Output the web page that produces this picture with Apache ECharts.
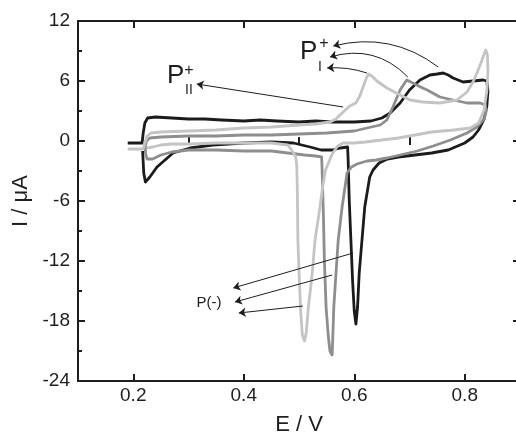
<!DOCTYPE html>
<html>
<head>
<meta charset="utf-8">
<script src="https://cdn.jsdelivr.net/npm/echarts@6/dist/echarts.min.js"></script>
<style>
  html, body { margin: 0; padding: 0; background: #ffffff; }
  #chart { width: 516px; height: 437px; }
</style>
</head>
<body>
<div id="chart"></div>
<script>
// Tick positions
const eMajorTicks = [0.2, 0.4, 0.6, 0.8];
const eMinorTicks = [0.3, 0.5, 0.7];

// Cyclic voltammograms: [E / V, I / uA], in scan order
const scanBlack = [
  [0.190,-0.2],[0.216,-0.2],[0.218,0.8],[0.221,1.8],[0.226,2.3],[0.24,2.4],[0.27,2.3],[0.30,2.2],
  [0.33,2.2],[0.36,2.1],[0.40,2.0],[0.43,2.1],[0.46,2.0],[0.50,1.9],[0.53,2.0],[0.56,1.9],[0.60,1.9],
  [0.63,2.0],[0.65,2.3],[0.665,2.8],[0.683,3.8],[0.70,5.1],[0.719,6.1],[0.737,6.6],[0.750,6.7],
  [0.761,6.8],[0.770,6.6],[0.779,6.3],[0.797,5.9],[0.815,6.0],[0.833,6.1],[0.840,6.0],[0.842,5.0],
  [0.840,3.5],[0.835,2.2],[0.825,1.1],[0.815,0.4],[0.800,-0.2],[0.770,-0.9],[0.740,-1.2],[0.710,-1.4],
  [0.680,-1.6],[0.660,-1.8],[0.645,-2.2],[0.634,-2.9],[0.628,-3.6],[0.619,-6.6],[0.614,-9.9],
  [0.609,-13.2],[0.606,-16.6],[0.603,-18.3],[0.600,-17.0],[0.597,-14.0],[0.594,-10.0],[0.591,-6.0],
  [0.589,-2.0],[0.588,-0.6],[0.575,-0.7],[0.560,-0.9],[0.540,-0.9],[0.520,-0.6],[0.490,-0.2],
  [0.450,-0.1],[0.400,-0.2],[0.344,-0.4],[0.303,-0.7],[0.272,-1.2],[0.243,-2.6],[0.230,-3.6],
  [0.222,-4.1],[0.219,-3.2],[0.217,-1.0]
];

const scanGrey = [
  [0.222,-0.5],[0.224,0.0],[0.230,0.3],[0.25,0.4],[0.30,0.5],[0.35,0.5],[0.40,0.6],[0.45,0.6],
  [0.50,0.7],[0.55,0.8],[0.60,1.0],[0.623,1.3],[0.647,1.6],[0.659,2.1],[0.670,3.4],[0.683,5.1],
  [0.695,6.1],[0.706,5.8],[0.720,5.4],[0.732,5.1],[0.755,4.4],[0.779,4.1],[0.804,3.8],[0.828,3.8],
  [0.837,3.6],[0.839,3.0],[0.835,2.2],[0.822,1.4],[0.804,0.8],[0.774,0.1],[0.743,-0.5],[0.714,-1.0],
  [0.683,-1.4],[0.659,-1.7],[0.640,-1.9],[0.623,-2.0],[0.605,-2.3],[0.595,-2.6],[0.587,-3.2],
  [0.578,-6.6],[0.571,-9.9],[0.567,-13.2],[0.563,-16.6],[0.561,-19.9],[0.560,-21.4],[0.556,-21.0],
  [0.553,-19.5],[0.549,-16.6],[0.546,-12.0],[0.544,-7.0],[0.542,-3.2],[0.541,-1.6],[0.530,-1.5],
  [0.510,-1.4],[0.480,-1.2],[0.450,-1.0],[0.400,-1.0],[0.350,-0.9],[0.300,-0.9],[0.270,-1.1],
  [0.250,-1.4],[0.235,-1.8],[0.225,-1.8],[0.222,-1.2],[0.222,-0.5]
];

const scanLight = [
  [0.190,-0.8],[0.218,-0.8],[0.221,-0.2],[0.225,0.5],[0.232,0.8],[0.25,0.9],[0.30,1.0],[0.35,1.1],
  [0.40,1.3],[0.45,1.4],[0.50,1.6],[0.53,1.7],[0.556,1.9],[0.567,2.2],[0.574,2.6],[0.580,2.9],
  [0.592,3.5],[0.603,3.8],[0.610,4.5],[0.616,5.4],[0.622,6.3],[0.626,6.7],[0.634,6.4],[0.641,6.0],
  [0.659,5.3],[0.683,4.6],[0.701,4.1],[0.724,3.9],[0.755,3.8],[0.786,4.1],[0.804,4.9],[0.815,5.9],
  [0.822,6.8],[0.830,7.9],[0.835,8.7],[0.838,9.1],[0.841,8.6],[0.842,7.0],[0.840,5.0],[0.835,3.1],
  [0.825,1.8],[0.810,1.3],[0.780,1.1],[0.740,0.9],[0.700,0.5],[0.680,0.3],[0.650,0.1],[0.620,-0.1],
  [0.600,-0.2],[0.580,-0.2],[0.570,-0.5],[0.560,-1.3],[0.548,-2.9],[0.543,-4.5],[0.538,-6.6],
  [0.529,-9.9],[0.524,-13.2],[0.517,-16.6],[0.513,-19.2],[0.510,-20.0],[0.506,-19.4],[0.503,-17.0],
  [0.500,-13.0],[0.498,-9.9],[0.497,-5.0],[0.496,-2.5],[0.494,-1.6],[0.489,-1.1],[0.480,-0.4],
  [0.450,-0.2],[0.400,-0.2],[0.350,-0.2],[0.300,-0.3],[0.270,-0.3],[0.250,-0.4],[0.235,-0.6],
  [0.225,-0.7]
];

// Annotation arrows: [arrow tip, tail on the curve, curveness]
const arrowsPI = [
  [[0.562, 9.5], [0.752, 7.4], 0.24],
  [[0.556, 8.4], [0.697, 6.4], 0.30],
  [[0.551, 7.3], [0.623, 6.8], 0.10]
];
const arrowsPII = [
  [[0.315, 5.7], [0.580, 3.4], 0]
];
const arrowsPminus = [
  [[0.381, -14.7], [0.598, -11.2], 0],
  [[0.384, -16.1], [0.560, -13.4], 0],
  [[0.391, -17.2], [0.507, -16.5], 0]
];

const FONT = "'Liberation Sans', Arial, Helvetica, sans-serif";
const INK = '#1e1e1e';

const chart = echarts.init(document.getElementById('chart'), null, { renderer: 'canvas' });

const arrowLines = arrowsPI.concat(arrowsPII, arrowsPminus).map(function (a) {
  return { coords: [a[0], a[1]], lineStyle: { curveness: a[2] } };
});

function axisBase(extra) {
  return Object.assign({
    type: 'value',
    axisLine: { show: true, onZero: false, lineStyle: { color: INK, width: 2 } },
    splitLine: { show: false },
    axisLabel: { show: false },
    axisTick: { show: false }
  }, extra);
}

const xCommon = { min: 0.1, max: 0.9 };
const yCommon = { min: -24, max: 12, interval: 6 };

const option = {
  backgroundColor: '#ffffff',
  animation: false,
  grid: { left: 78, top: 21, width: 442, height: 360, containLabel: false, outerBoundsMode: 'none' },
  xAxis: [
    axisBase(Object.assign({}, xCommon, {
      position: 'bottom',
      name: 'E / V',
      nameLocation: 'middle',
      nameGap: 33,
      nameTextStyle: { fontFamily: FONT, fontSize: 22, color: INK },
      axisTick: { show: true, inside: true, length: 7, customValues: eMajorTicks,
                  lineStyle: { color: INK, width: 2 } },
      axisLabel: { show: true, margin: 5, customValues: eMajorTicks,
                   fontFamily: FONT, fontSize: 19, color: INK,
                   formatter: function (v) { return v.toFixed(1); } }
    })),
    axisBase(Object.assign({}, xCommon, {
      position: 'bottom',
      axisLine: { show: false },
      axisTick: { show: true, inside: true, length: 4, customValues: eMinorTicks,
                  lineStyle: { color: INK, width: 2 } }
    })),
    axisBase(Object.assign({}, xCommon, {
      position: 'top',
      axisTick: { show: true, inside: true, length: 7, customValues: eMajorTicks,
                  lineStyle: { color: INK, width: 2 } }
    })),
    axisBase(Object.assign({}, xCommon, {
      position: 'top',
      axisLine: { show: false },
      axisTick: { show: true, inside: true, length: 4, customValues: eMinorTicks,
                  lineStyle: { color: INK, width: 2 } }
    }))
  ],
  yAxis: [
    axisBase(Object.assign({}, yCommon, {
      position: 'left',
      name: 'I / μA',
      nameLocation: 'middle',
      nameRotate: 90,
      nameGap: 43,
      nameTextStyle: { fontFamily: FONT, fontSize: 22, color: INK },
      axisTick: { show: true, inside: true, length: 7, lineStyle: { color: INK, width: 2 } },
      minorTick: { show: true, splitNumber: 2, length: 4, lineStyle: { color: INK, width: 2 } },
      axisLabel: { show: true, margin: 8, fontFamily: FONT, fontSize: 19, color: INK }
    })),
    axisBase(Object.assign({}, yCommon, {
      position: 'right',
      axisTick: { show: true, inside: true, length: 7, lineStyle: { color: INK, width: 2 } },
      minorTick: { show: true, splitNumber: 2, length: 4, lineStyle: { color: '#bbbbbb', width: 1 } }
    }))
  ],
  series: [
    {
      name: 'scan 1', type: 'line', data: scanBlack, xAxisIndex: 0, yAxisIndex: 0,
      showSymbol: false, symbol: 'none', smooth: false, silent: true,
      lineStyle: { color: '#1b1b1b', width: 2.8, join: 'round' }, z: 2
    },
    {
      name: 'scan 2', type: 'line', data: scanGrey, xAxisIndex: 0, yAxisIndex: 0,
      showSymbol: false, symbol: 'none', smooth: false, silent: true,
      lineStyle: { color: '#8e8e8e', width: 2.8, join: 'round' }, z: 3
    },
    {
      name: 'scan 3', type: 'line', data: scanLight, xAxisIndex: 0, yAxisIndex: 0,
      showSymbol: false, symbol: 'none', smooth: false, silent: true,
      lineStyle: { color: '#c4c4c4', width: 2.8, join: 'round' }, z: 4
    },
    {
      name: 'peak arrows', type: 'lines', coordinateSystem: 'cartesian2d',
      xAxisIndex: 0, yAxisIndex: 0, silent: true, z: 6,
      symbol: ['arrow', 'none'], symbolSize: 7,
      lineStyle: { color: INK, width: 1, opacity: 1 },
      emphasis: { disabled: true },
      data: arrowLines
    }
  ]
};

chart.setOption(option);

// Peak labels, anchored in data coordinates
const peakLabels = [
  { at: [0.5018, 8.9], text: 'P', size: 26, align: 'left' },
  { at: [0.5452, 9.7], text: '+', size: 16, align: 'center' },
  { at: [0.5380, 7.4], text: 'I', size: 14, align: 'center' },
  { at: [0.2611, 6.5], text: 'P', size: 26, align: 'left' },
  { at: [0.3009, 7.0], text: '+', size: 16, align: 'center' },
  { at: [0.3009, 5.1], text: 'II', size: 14, align: 'center' },
  { at: [0.3371, -16.15], text: 'P(-)', size: 15, align: 'center' }
];

chart.setOption({
  graphic: peakLabels.map(function (l) {
    const p = chart.convertToPixel({ xAxisIndex: 0, yAxisIndex: 0 }, l.at);
    return {
      type: 'text', x: p[0], y: p[1], silent: true, z: 10,
      style: { text: l.text, fill: INK, font: l.size + 'px ' + FONT,
               textAlign: l.align, textVerticalAlign: 'middle' }
    };
  })
});
</script>
</body>
</html>
